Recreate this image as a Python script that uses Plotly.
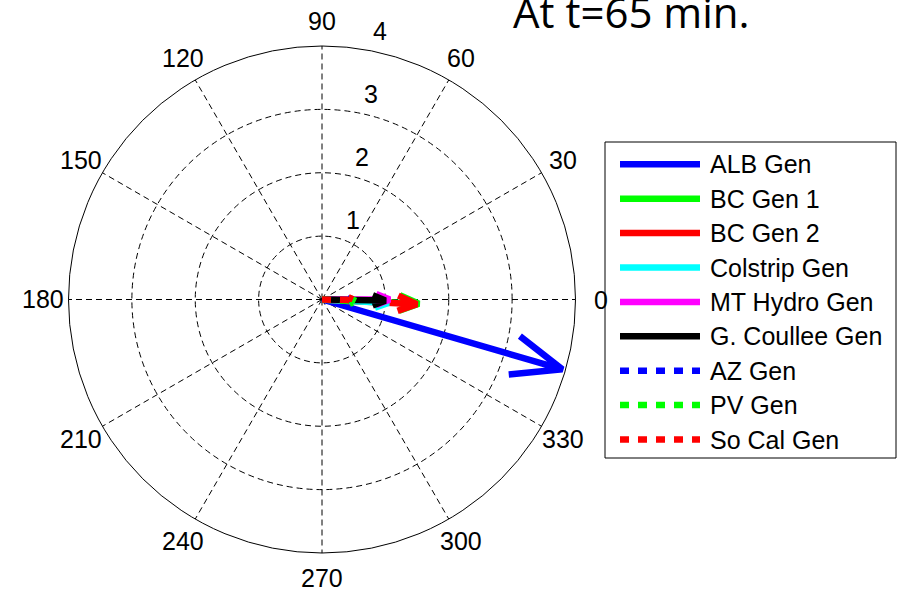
import math
import cmath
import plotly.graph_objects as go

# ---- data ---------------------------------------------------------------
names = ["ALB Gen", "BC Gen 1", "BC Gen 2", "Colstrip Gen", "MT Hydro Gen",
         "G. Coullee Gen", "AZ Gen", "PV Gen", "So Cal Gen"]
magnitudes = [3.95, 1.53, 1.50, 1.05, 1.07, 1.00, 0.50, 0.55, 0.52]
angles_deg = [-16.2, -2.5, -2.8, -3.0, 0.0, -1.0, -2.0, -3.0, -1.0]
colors = ["#0000ff", "#00ff00", "#ff0000", "#00ffff", "#ff00ff",
          "#000000", "#0000ff", "#00ff00", "#ff0000"]
dashes = ["solid"] * 6 + ["9px,9px"] * 3
angle_ticks = list(range(0, 360, 30))
ring_ticks = [1, 2, 3, 4]
title_text = "At t=65 min."

# ---- page geometry ------------------------------------------------------
W, H = 898, 592
R_MAX = 4
dom_x = [67 / W, 577 / W]
dom_y = [1 - 553 / H, 1 - 46 / H]
cx = (dom_x[0] + dom_x[1]) / 2 * W
cy = (1 - (dom_y[0] + dom_y[1]) / 2) * H
rad_px = min((dom_x[1] - dom_x[0]) * W, (dom_y[1] - dom_y[0]) * H) / 2
FONT = "Liberation Sans, Arial, sans-serif"
FS = 25

# legend box (pixels from top-left)
LEG_X0, LEG_X1, LEG_Y0, LEG_Y1 = 605, 896, 142, 458
LEG_ROW0, LEG_STEP = 164.3, 34.4
LEG_LINE_X0, LEG_LINE_X1, LEG_TEXT_X = 620, 700, 708


def px(x):
    return x / W


def py(y):
    return 1 - y / H


def to_paper(r, ang_deg):
    """Polar data position -> paper coordinates."""
    x = cx + r / R_MAX * rad_px * math.cos(math.radians(ang_deg))
    y = cy - r / R_MAX * rad_px * math.sin(math.radians(ang_deg))
    return px(x), py(y)


def compass_arrow(mag, ang):
    """Compass-style arrow: shaft plus two barbs, as polar points."""
    z = mag * cmath.exp(1j * math.radians(ang))
    outline = [0, 1, 0.8 + 0.08j, 1, 0.8 - 0.08j]
    pts = [p * z for p in outline]
    return [abs(p) for p in pts], [math.degrees(cmath.phase(p)) for p in pts]


fig = go.Figure()
for i, name in enumerate(names):
    r, th = compass_arrow(magnitudes[i], angles_deg[i])
    fig.add_trace(go.Scatterpolar(
        r=r, theta=th, mode="lines", name=name,
        line=dict(color=colors[i], width=6.5, dash=dashes[i]),
        showlegend=False, hoverinfo="skip",
    ))

# legend: framed box with a line sample and a label per series
shapes = [dict(type="rect", xref="paper", yref="paper",
               x0=px(LEG_X0), x1=px(LEG_X1), y0=py(LEG_Y1), y1=py(LEG_Y0),
               line=dict(color="black", width=1), fillcolor="white",
               layer="above")]
annotations = []
for i, name in enumerate(names):
    yc = LEG_ROW0 + LEG_STEP * i
    shapes.append(dict(type="line", xref="paper", yref="paper",
                       x0=px(LEG_LINE_X0), x1=px(LEG_LINE_X1),
                       y0=py(yc), y1=py(yc), layer="above",
                       line=dict(color=colors[i], width=6.5, dash=dashes[i])))
    annotations.append(dict(
        x=px(LEG_TEXT_X), y=py(yc), xref="paper", yref="paper", text=name,
        showarrow=False, xanchor="left", yanchor="middle",
        font=dict(family=FONT, size=FS, color="black")))

# angle labels centred at 1.1 x the outer radius
for a in angle_ticks:
    x, y = to_paper(R_MAX * 1.1, a)
    annotations.append(dict(
        x=x, y=y, xref="paper", yref="paper", text=str(a), showarrow=False,
        xanchor="center", yanchor="middle",
        font=dict(family=FONT, size=FS, color="black")))

# ring labels
for v in ring_ticks:
    x, y = to_paper(v + 0.05, 82)
    annotations.append(dict(
        x=x, y=y, xref="paper", yref="paper", text=str(v), showarrow=False,
        xanchor="center", yanchor="middle", xshift=22, yshift=14,
        font=dict(family=FONT, size=FS, color="black")))

# title
annotations.append(dict(
    x=px(511), y=py(-19), xref="paper", yref="paper", text=title_text,
    showarrow=False, xanchor="left", yanchor="top",
    font=dict(family="Open Sans, sans-serif", size=42, color="black")))

fig.update_layout(
    width=W, height=H, autosize=False,
    margin=dict(l=0, r=0, t=0, b=0),
    paper_bgcolor="white",
    showlegend=False,
    polar=dict(
        domain=dict(x=dom_x, y=dom_y),
        bgcolor="white",
        radialaxis=dict(range=[0, R_MAX], tickvals=ring_ticks,
                        showticklabels=False, ticks="", showline=False,
                        gridcolor="black", griddash="6px,4px", gridwidth=1),
        angularaxis=dict(tickvals=angle_ticks, showticklabels=False, ticks="",
                         direction="counterclockwise", rotation=0,
                         showline=True, linecolor="black", linewidth=1,
                         gridcolor="black", griddash="6px,4px", gridwidth=1),
    ),
    shapes=shapes,
    annotations=annotations,
)

fig.write_html("out.html")
